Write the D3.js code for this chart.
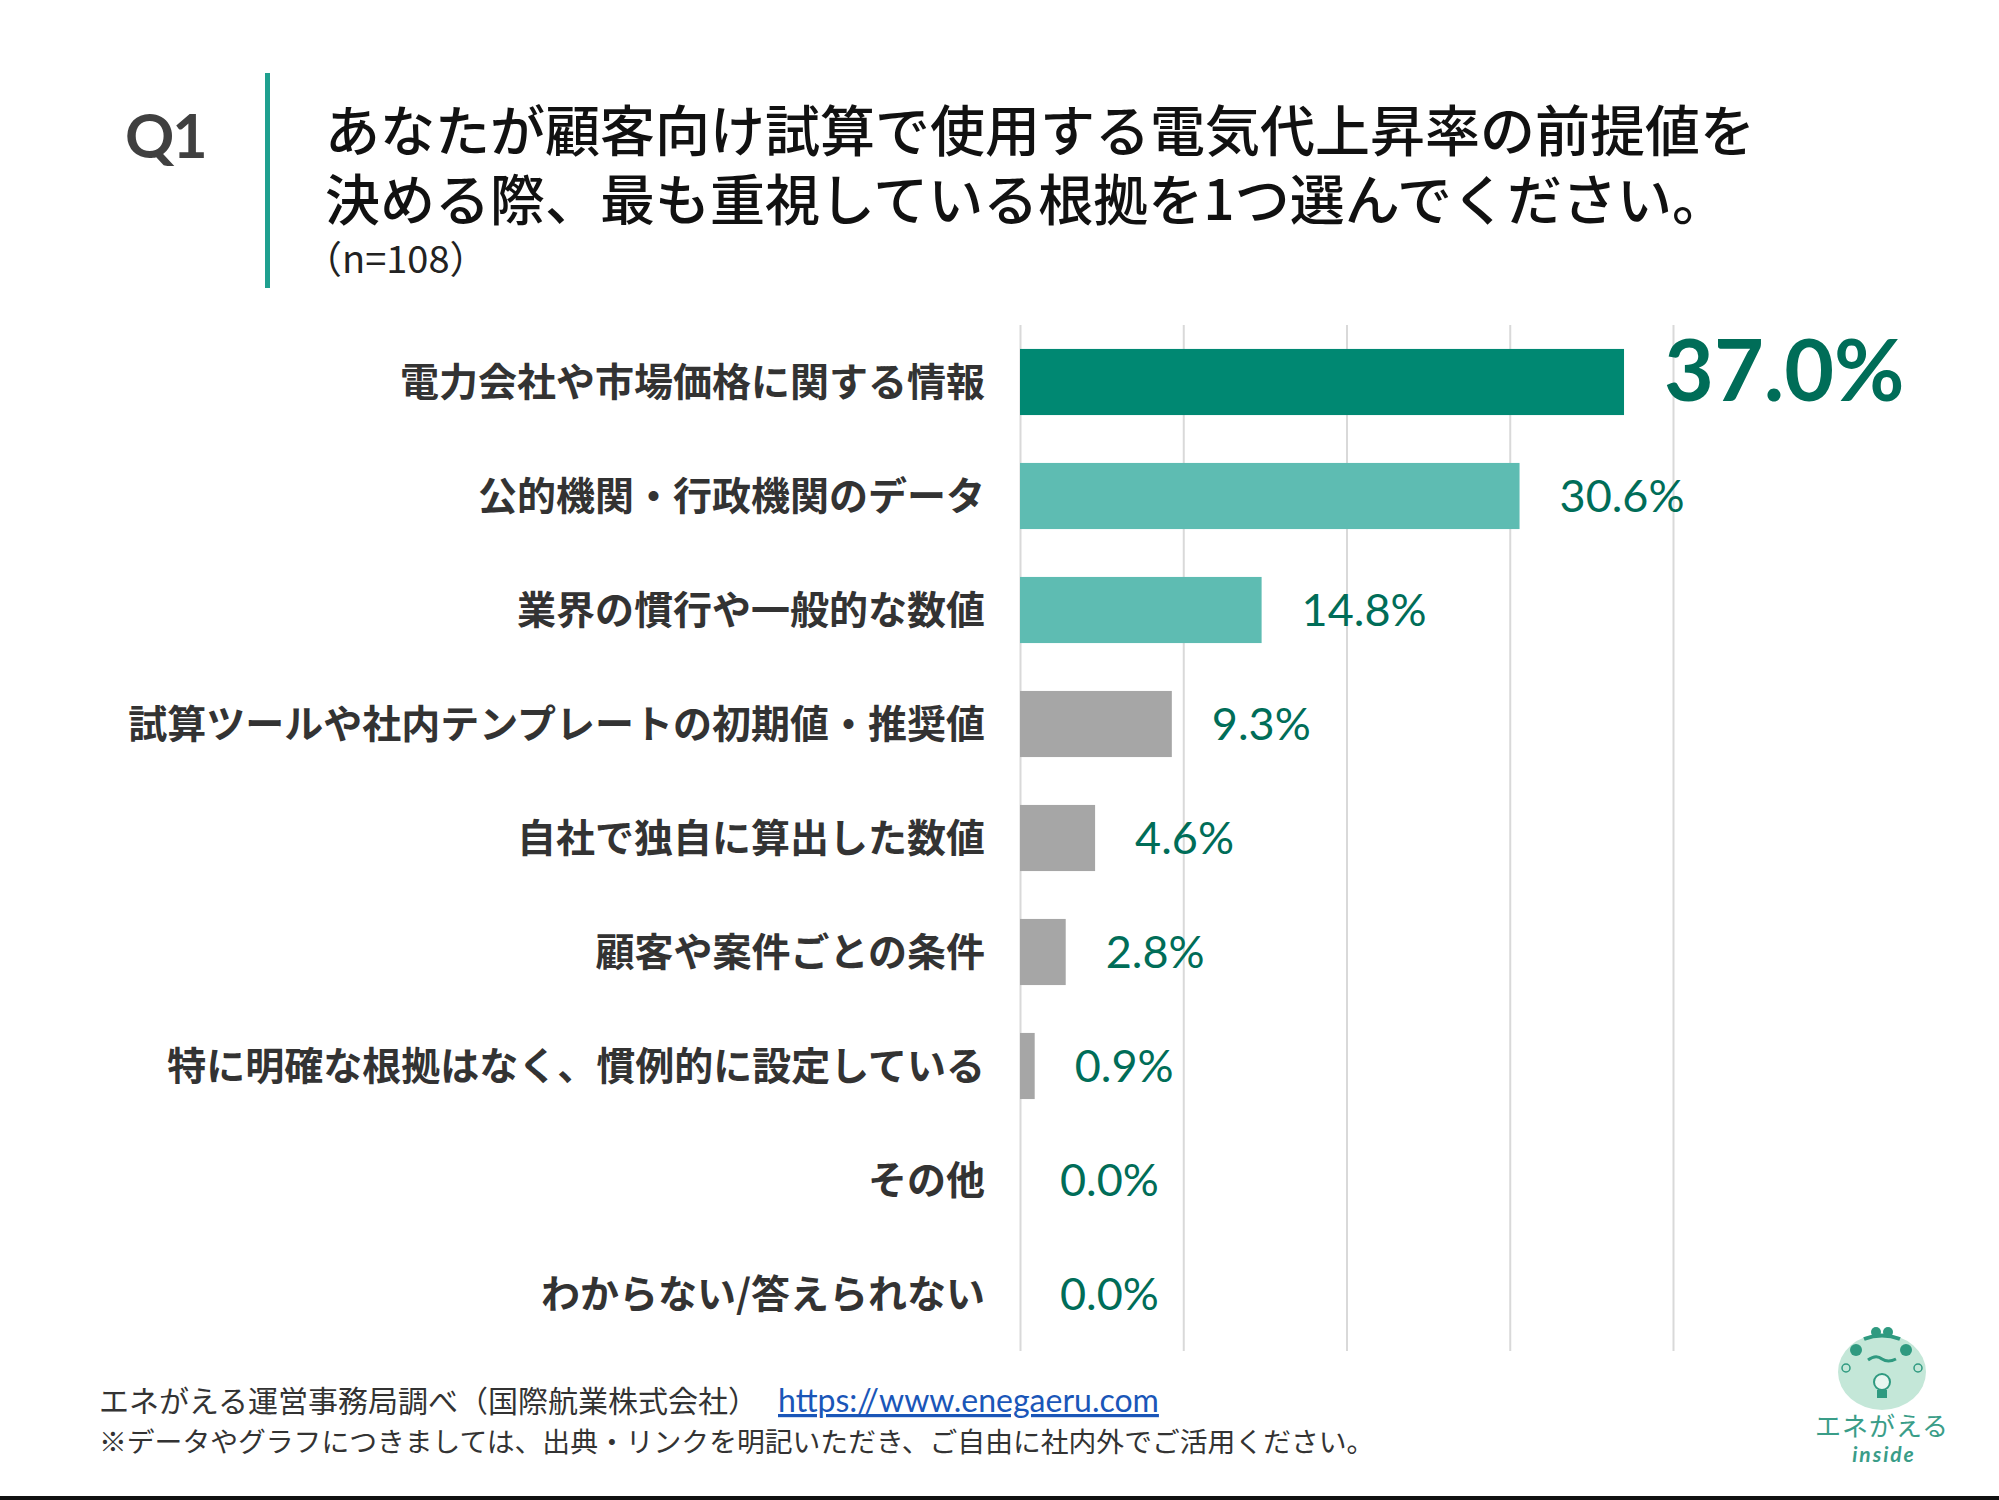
<!DOCTYPE html>
<html>
<head>
<meta charset="utf-8">
<script src="https://cdn.jsdelivr.net/npm/d3@7"></script>
<style>
  body { margin: 0; background: #fff; }
  svg { display: block; }
</style>
</head>
<body>
<svg id="chart" width="1999" height="1500"></svg>
<script>
// answers, top to bottom
const categories = [
  "電力会社や市場価格に関する情報",
  "公的機関・行政機関のデータ",
  "業界の慣行や一般的な数値",
  "試算ツールや社内テンプレートの初期値・推奨値",
  "自社で独自に算出した数値",
  "顧客や案件ごとの条件",
  "特に明確な根拠はなく、慣例的に設定している",
  "その他",
  "わからない/答えられない"
];
const values = [37.0, 30.6, 14.8, 9.3, 4.6, 2.8, 0.9, 0.0, 0.0];
const gridTicks = [0, 10, 20, 30, 40];

const titleLines = [
  "あなたが顧客向け試算で使用する電気代上昇率の前提値を",
  "決める際、最も重視している根拠を1つ選んでください。"
];
const sampleNote = "（n=108）";
const sourceText = "エネがえる運営事務局調べ（国際航業株式会社）";
const sourceUrl = "https://www.enegaeru.com";
const usageNote = "※データやグラフにつきましては、出典・リンクを明記いただき、ご自由に社内外でご活用ください。";

const jp = "'Noto Sans CJK JP', 'Noto Sans', sans-serif";
const num = "Lato, 'Noto Sans', sans-serif";

const svg = d3.select("#chart");

// ---- header
svg.append("text")
  .attr("x", 125).attr("y", 158)
  .attr("font-family", num).attr("font-weight", 700)
  .attr("font-size", 61).attr("letter-spacing", -2).attr("fill", "#404040")
  .text("Q1");

svg.append("rect")
  .attr("x", 265).attr("y", 73).attr("width", 5).attr("height", 215)
  .attr("fill", "#1fa08f");

// both title lines in one text element
const title = svg.append("text")
  .attr("font-family", jp).attr("font-weight", 500)
  .attr("font-size", 55).attr("fill", "#111");
title.selectAll("tspan")
  .data(titleLines)
  .enter().append("tspan")
  .attr("x", 325)
  .attr("y", (d, i) => 151 + i * 69)
  .text(d => d);

svg.append("text")
  .attr("x", 304).attr("y", 273)
  .attr("font-family", jp).attr("font-size", 38).attr("fill", "#222")
  .text(sampleNote);

// ---- bars
const x = d3.scaleLinear()
  .domain([0, 40])
  .range([1020, 1673]);

const y = d3.scaleBand()
  .domain(categories)
  .range([325, 1351])
  .paddingInner(0.42)
  .paddingOuter(0.21);

// vertical grid
svg.append("g")
  .attr("transform", `translate(0,${y.range()[0]})`)
  .call(d3.axisTop(x).tickValues(gridTicks).tickSize(-(y.range()[1] - y.range()[0])).tickFormat(""))
  .call(g => g.select(".domain").remove())
  .selectAll("line")
  .attr("stroke", "#d9d9d9").attr("stroke-width", 2);

function barColor(i) {
  if (i === 0) return "#008872";
  if (i < 3) return "#5ebcb2";
  return "#a6a6a6";
}

svg.selectAll("rect.bar")
  .data(values)
  .enter().append("rect")
  .attr("class", "bar")
  .attr("x", x(0))
  .attr("y", (d, i) => y(categories[i]))
  .attr("width", d => x(d) - x(0))
  .attr("height", y.bandwidth())
  .attr("fill", (d, i) => barColor(i));

// category labels
svg.selectAll("text.cat")
  .data(categories)
  .enter().append("text")
  .attr("class", "cat")
  .attr("x", 985)
  .attr("y", d => y(d) + y.bandwidth() / 2)
  .attr("dy", "0.36em")
  .attr("text-anchor", "end")
  .attr("font-family", jp).attr("font-weight", 700)
  .attr("font-size", 39).attr("fill", "#333")
  .text(d => d);

// value labels
svg.selectAll("text.val")
  .data(values)
  .enter().append("text")
  .attr("class", "val")
  .attr("x", d => x(d) + 40)
  .attr("y", (d, i) => y(categories[i]) + y.bandwidth() / 2 - (i === 0 ? 12 : 0))
  .attr("dy", "0.36em")
  .attr("font-family", num)
  .attr("font-weight", (d, i) => i === 0 ? 700 : 400)
  .attr("font-size", (d, i) => i === 0 ? 86 : 45)
  .attr("fill", "#006d58")
  .text(d => d.toFixed(1) + "%");

// ---- footer
svg.append("text")
  .attr("x", 99).attr("y", 1412)
  .attr("font-family", jp).attr("font-size", 30).attr("fill", "#333")
  .text(sourceText);

svg.append("text")
  .attr("x", 778).attr("y", 1412)
  .attr("font-family", num).attr("font-size", 32).attr("fill", "#1a56b8")
  .attr("text-decoration", "underline")
  .text(sourceUrl);

svg.append("text")
  .attr("x", 99).attr("y", 1452)
  .attr("font-family", jp).attr("font-size", 27.8).attr("fill", "#333")
  .text(usageNote);

svg.append("rect")
  .attr("x", 0).attr("y", 1496).attr("width", 1999).attr("height", 4)
  .attr("fill", "#111");

// ---- logo (mascot)
const logo = svg.append("g").attr("transform", "translate(1882,1372)");
const dark = "#2f9a80";
logo.append("ellipse").attr("rx", 44).attr("ry", 38).attr("fill", "#c4e7d8");
logo.append("ellipse").attr("cx", -6).attr("cy", -40).attr("rx", 5).attr("ry", 5).attr("fill", dark);
logo.append("ellipse").attr("cx", 6).attr("cy", -40).attr("rx", 5).attr("ry", 5).attr("fill", dark);
logo.append("path").attr("d", "M-18,-33 Q0,-40 18,-33").attr("stroke", dark).attr("stroke-width", 4).attr("fill", "none");
logo.append("circle").attr("cx", -26).attr("cy", -22).attr("r", 6).attr("fill", dark);
logo.append("circle").attr("cx", 24).attr("cy", -22).attr("r", 6).attr("fill", dark);
logo.append("path").attr("d", "M-14,-12 Q-6,-18 0,-13 Q6,-9 14,-13").attr("stroke", dark).attr("stroke-width", 3).attr("fill", "none");
logo.append("circle").attr("cx", -36).attr("cy", -4).attr("r", 4).attr("stroke", dark).attr("stroke-width", 1.5).attr("fill", "none");
logo.append("circle").attr("cx", 36).attr("cy", -4).attr("r", 4).attr("stroke", dark).attr("stroke-width", 1.5).attr("fill", "none");
logo.append("circle").attr("cx", 0).attr("cy", 10).attr("r", 8).attr("stroke", dark).attr("stroke-width", 2).attr("fill", "#e8f6f0");
logo.append("rect").attr("x", -5).attr("y", 18).attr("width", 10).attr("height", 8).attr("fill", dark);

svg.append("text")
  .attr("x", 1882).attr("y", 1436)
  .attr("text-anchor", "middle")
  .attr("font-family", jp).attr("font-size", 26).attr("letter-spacing", 1)
  .attr("fill", "#3a9d88")
  .text("エネがえる");
svg.append("text")
  .attr("x", 1884).attr("y", 1462)
  .attr("text-anchor", "middle")
  .attr("font-family", num).attr("font-size", 21).attr("font-weight", 700)
  .attr("font-style", "italic").attr("letter-spacing", 2)
  .attr("fill", "#3a9d88")
  .text("inside");
</script>
</body>
</html>
